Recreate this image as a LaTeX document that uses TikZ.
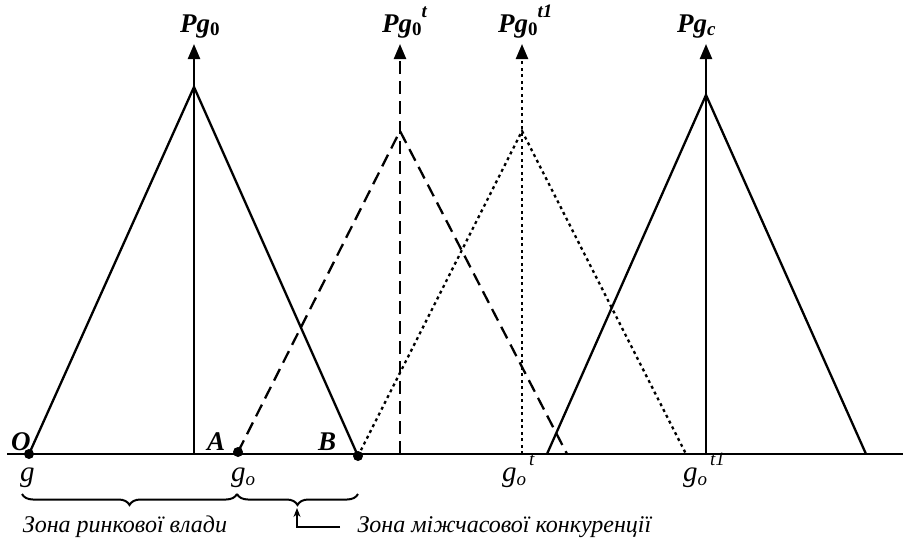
\documentclass[tikz,border=0pt]{standalone}
\usepackage{fontspec}
\setmainfont{Liberation Serif}
\usetikzlibrary{arrows.meta,decorations.pathreplacing,positioning}
\tikzstyle{curve}=[
line width=2.3pt
]
\tikzstyle{axisline}=[
line width=2.8pt
]
\tikzstyle{price}=[
line width=2.3pt,
-{Triangle[width=12pt,length=15pt]}
]
\tikzstyle{dashline}=[
dash pattern=on 13pt off 7pt
]
\tikzstyle{dotline}=[
dash pattern=on 3pt off 3.5pt
]
\tikzstyle{plabel}=[
font=\bfseries\itshape\fontsize{27}{29}\selectfont,
anchor=base west,
inner sep=0pt
]
\tikzstyle{glabel}=[
font=\itshape\fontsize{29}{31}\selectfont,
anchor=base west,
inner sep=0pt
]
\tikzstyle{zone}=[
font=\itshape\fontsize{24}{26}\selectfont
]
\tikzstyle{dot}=[
circle,
fill,
inner sep=0pt,
minimum size=10pt
]
\tikzstyle{brace}=[
line width=2pt,
decorate,
decoration={brace,mirror,amplitude=11pt}
]
\newcommand{\lowidx}[1]{\raisebox{-0.14em}{\fontsize{19}{19}\selectfont #1}}
\newcommand{\highidx}[1]{\raisebox{0.55em}{\fontsize{19}{19}\selectfont #1}}

\begin{document}
\begin{tikzpicture}[x=1pt,y=-1pt]
\useasboundingbox (0,0) rectangle (903,544);

% axis
\coordinate (left) at (7,454);
\coordinate (right) at (903,454);
\draw [axisline] (left) -- (right);

% points on the axis
\node (O) [dot] at (29,454) {};
\node (A) [dot] at (238,452) {};
\node (B) [dot] at (358,456) {};

% peaks
\coordinate (peak0) at (194,87);
\coordinate (peakt) at (400,131);
\coordinate (peakt1) at (522,131);
\coordinate (peakc) at (706,95);

% feet
\coordinate (foot0) at (194,454);
\coordinate (foott) at (400,454);
\coordinate (foott1) at (522,454);
\coordinate (footc) at (706,454);
\coordinate (endt) at (567,454);
\coordinate (endt1) at (686,454);
\coordinate (startc) at (547,454);
\coordinate (endc) at (866,454);

% arrow tops
\coordinate (top0) at (194,44);
\coordinate (topt) at (400,44);
\coordinate (topt1) at (522,44);
\coordinate (topc) at (706,44);

% triangles
\draw [curve] (O.center) -- (peak0) -- (B.center);
\draw [curve, dashline] (A.center) -- (peakt) -- (endt);
\draw [curve, dotline] (B.center) -- (peakt1) -- (endt1);
\draw [curve] (startc) -- (peakc) -- (endc);

% price lines
\draw [price] (foot0) -- (top0);
\draw [price, dashline] (foott) -- (topt);
\draw [price, dotline] (foott1) -- (topt1);
\draw [price] (footc) -- (topc);

\node (pg0) [plabel] at (180,32) {Pg\lowidx{\textup{0}}};
\node (pgt) [plabel] at (382,32) {Pg\lowidx{\textup{0}}\highidx{t}};
\node (pgt1) [plabel] at (498,32) {Pg\lowidx{\textup{0}}\highidx{t1}};
\node (pgc) [plabel] at (677,32) {Pg\lowidx{c}};

\node (lO) [plabel] at (11,450) {O};
\node (lA) [plabel] at (207,450) {A};
\node (lB) [plabel] at (318,450) {B};

\node (g) [glabel] at (20,481) {g};
\node (go) [glabel] at (231,481) {g\lowidx{o}};
\node (got) [glabel] at (502,481) {g\lowidx{o}\kern3pt\highidx{t}};
\node (got1) [glabel] at (683,481) {g\lowidx{o}\kern3pt\highidx{t1}};

% zones
\coordinate (bstart) at (22,494);
\coordinate (bmid) at (237,494);
\coordinate (bend) at (358,494);
\draw [brace] (bstart) -- (bmid);
\draw [brace] (bmid) -- (bend);

\node (power) [zone] at (125,527) {Зона ринкової влади};
\node (konk) [zone, anchor=west] at (354,527) {Зона міжчасової конкуренції};
\coordinate (zonetip) at (297,508);
\draw [line width=1.2pt, -{Stealth[length=9pt,width=7pt]}, shorten <=14pt] (konk.west) -| (zonetip);

\end{tikzpicture}
\end{document}
